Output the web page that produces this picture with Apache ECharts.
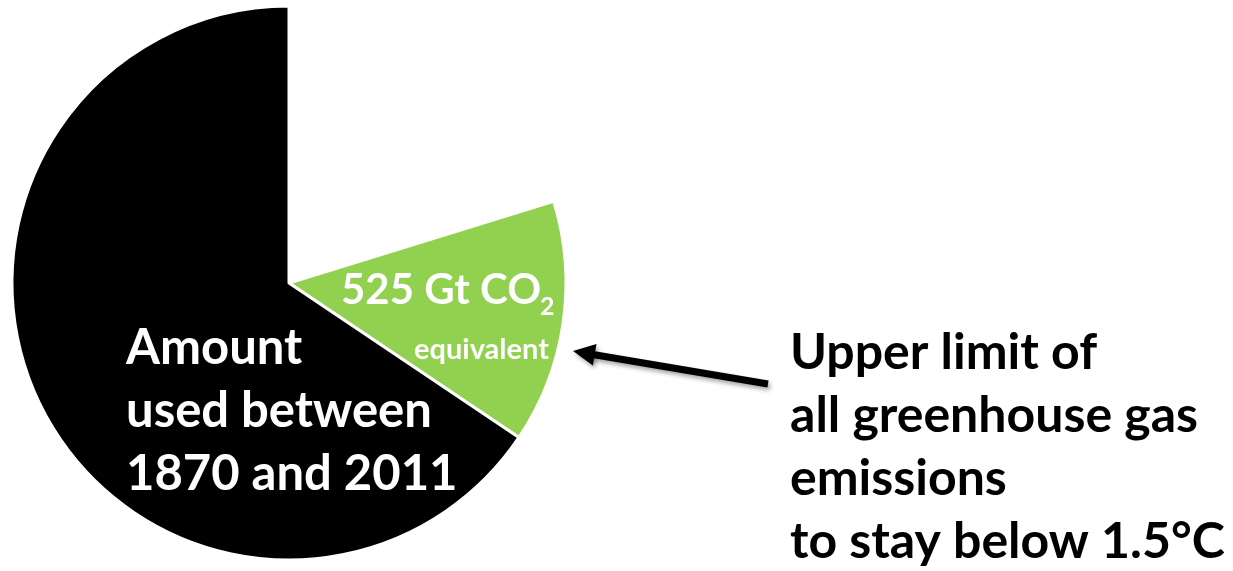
<!DOCTYPE html>
<html>
<head>
<meta charset="utf-8">
<script src="https://cdn.jsdelivr.net/npm/echarts@6/dist/echarts.min.js"></script>
<style>
  html, body { margin: 0; padding: 0; background: #ffffff; }
  #chart { width: 1233px; height: 571px; }
</style>
</head>
<body>
<div id="chart"></div>
<script>
// Carbon budget slices, in Gt CO2 equivalent (drawn clockwise from 12 o'clock)
const sliceNames = ['Not shown', 'Upper limit', 'Amount used between 1870 and 2011'];
const sliceValues = [750, 525, 2430];
const sliceColors = ['rgba(0,0,0,0)', '#92D050', '#000000'];

// Text blocks
const usedLines = ['Amount', 'used between', '1870 and 2011'];
const limitLines = ['Upper limit of', 'all greenhouse gas', 'emissions', 'to stay below 1.5°C'];
const budgetUnit = 'Gt CO';
const budgetSub = '2';
const budgetNote = 'equivalent';

const FONT = 'Lato, "Open Sans", sans-serif';

const chart = echarts.init(document.getElementById('chart'), null, { renderer: 'canvas' });

const pieData = sliceNames.map((n, i) => ({
  name: n,
  value: sliceValues[i],
  itemStyle: {
    color: sliceColors[i],
    borderColor: i === 0 ? 'rgba(0,0,0,0)' : '#ffffff',
    borderWidth: i === 0 ? 0 : 3
  }
}));

const graphics = [];

// white label in the black slice
usedLines.forEach((t, i) => {
  graphics.push({
    type: 'text', z: 100, left: 126, top: 324 + i * 63,
    style: { text: t, fill: '#ffffff', font: 'bold 49px ' + FONT }
  });
});

// label in the green slice
graphics.push({
  type: 'text', z: 100, left: 341, top: 269,
  style: { text: sliceValues[1] + ' ' + budgetUnit, fill: '#ffffff', font: 'bold 42px ' + FONT }
});
graphics.push({
  type: 'text', z: 100, left: 540, top: 294,
  style: { text: budgetSub, fill: '#ffffff', font: 'bold 25px ' + FONT }
});
graphics.push({
  type: 'text', z: 100, left: 414, top: 335,
  style: { text: budgetNote, fill: '#ffffff', font: 'bold 29px ' + FONT }
});

// black explanatory text on the right
limitLines.forEach((t, i) => {
  graphics.push({
    type: 'text', z: 100, left: 790, top: 328 + i * 63,
    style: { text: t, fill: '#000000', font: 'bold 50px ' + FONT }
  });
});

// arrow pointing at the green slice
const shadow = { shadowBlur: 4, shadowOffsetX: 2, shadowOffsetY: 3, shadowColor: 'rgba(0,0,0,0.35)' };
graphics.push({
  type: 'group',
  z: 100,
  children: [
    {
      type: 'line', z: 100,
      shape: { x1: 768, y1: 384, x2: 590, y2: 354 },
      style: Object.assign({ stroke: '#000000', lineWidth: 7 }, shadow)
    },
    {
      type: 'polygon', z: 100,
      shape: { points: [[573, 351], [596.5, 343.9], [592.9, 365.5]] },
      style: Object.assign({ fill: '#000000' }, shadow)
    }
  ]
});

chart.setOption({
  animation: false,
  backgroundColor: '#ffffff',
  series: [{
    type: 'pie',
    center: [289, 283],
    radius: [0, 277],
    startAngle: 90,
    clockwise: true,
    silent: true,
    label: { show: false },
    labelLine: { show: false },
    emphasis: { disabled: true },
    data: pieData
  }],
  graphic: graphics
});
</script>
</body>
</html>
